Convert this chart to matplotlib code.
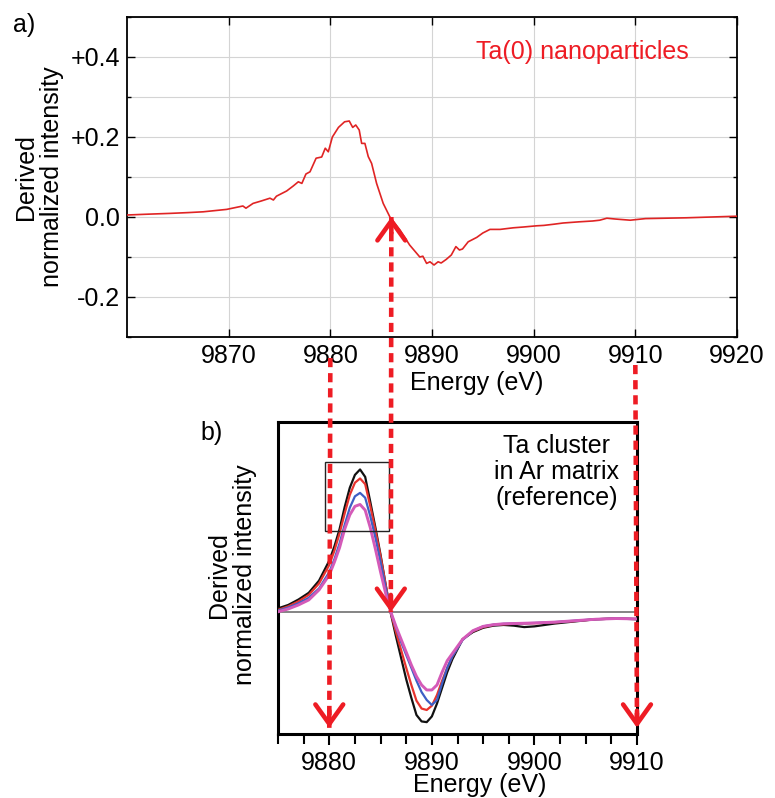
import matplotlib
matplotlib.use("Agg")
import matplotlib.pyplot as plt
from matplotlib.patches import ConnectionPatch, Rectangle
from matplotlib.ticker import MultipleLocator

plt.rcParams['font.family'] = ['Liberation Sans', 'DejaVu Sans']

# ---------------- data: panel a (Ta(0) nanoparticles) ----------------
energy_a = [9860, 9862, 9864.2, 9866, 9867.5, 9869.8, 9871.4, 9871.7, 9872.4, 9873.2,
            9874.06, 9874.4, 9874.7, 9875.7, 9876.35, 9876.85, 9877.2, 9877.6, 9878.0,
            9878.6, 9879.15, 9879.5, 9879.8, 9880.2, 9880.8, 9881.4, 9881.86, 9882.2,
            9882.5, 9882.84, 9883.08, 9883.4, 9883.73, 9884.06, 9884.55, 9885.2, 9885.86,
            9886.85, 9887.8, 9888.5, 9888.8, 9889.1, 9889.47, 9889.8, 9890.2, 9890.6,
            9890.9, 9891.4, 9891.9, 9892.35, 9892.7, 9893.0, 9893.56, 9894.4, 9895.0,
            9895.7, 9896.7, 9898.0, 9899.0, 9900.3, 9901.0, 9902.0, 9902.9, 9904.5,
            9905.8, 9906.5, 9907.2, 9908.0, 9909.5, 9911.0, 9915.0, 9920.0]
deriv_a = [0.005, 0.007, 0.009, 0.011, 0.013, 0.019, 0.0275, 0.022, 0.034, 0.040,
           0.047, 0.0425, 0.052, 0.065, 0.0775, 0.088, 0.084, 0.1075, 0.113,
           0.147, 0.150, 0.172, 0.163, 0.200, 0.224, 0.238, 0.240, 0.224,
           0.230, 0.2175, 0.184, 0.184, 0.151, 0.134, 0.084, 0.034, 0.0,
           -0.0325, -0.070, -0.091, -0.100, -0.098, -0.116, -0.112, -0.120, -0.112,
           -0.115, -0.106, -0.095, -0.074, -0.0825, -0.080, -0.062, -0.051, -0.040,
           -0.031, -0.031, -0.027, -0.025, -0.022, -0.021, -0.018, -0.015, -0.012,
           -0.010, -0.008, -0.003, -0.005, -0.008, -0.004, -0.002, 0.002]

# ---------------- data: panel b (Ta cluster in Ar matrix) ----------------
energy_b = [9875, 9876, 9877, 9878, 9879, 9880, 9880.5, 9881, 9881.5, 9882, 9882.5,
            9883, 9883.5, 9884, 9884.5, 9885, 9885.5, 9886, 9886.5, 9887, 9887.5,
            9888, 9888.5, 9889, 9889.5, 9890, 9890.5, 9891, 9891.5, 9892, 9893,
            9894, 9895, 9896, 9897, 9898, 9899, 9900, 9902, 9904, 9906, 9908, 9910]
black_b = [0.026, 0.050, 0.088, 0.135, 0.220, 0.360, 0.460, 0.580, 0.735, 0.870, 0.960,
           0.998, 0.946, 0.770, 0.590, 0.400, 0.190, -0.010, -0.170, -0.320, -0.470,
           -0.600, -0.720, -0.765, -0.770, -0.730, -0.640, -0.530, -0.420, -0.330, -0.190,
           -0.140, -0.110, -0.095, -0.090, -0.095, -0.105, -0.100, -0.080, -0.065, -0.050,
           -0.045, -0.050]
red_b = [0.015, 0.040, 0.075, 0.120, 0.200, 0.330, 0.430, 0.550, 0.690, 0.820, 0.905,
         0.935, 0.895, 0.740, 0.570, 0.390, 0.190, -0.005, -0.140, -0.265, -0.390,
         -0.510, -0.620, -0.675, -0.685, -0.655, -0.580, -0.480, -0.390, -0.310, -0.190,
         -0.135, -0.105, -0.090, -0.085, -0.082, -0.080, -0.078, -0.072, -0.062, -0.050,
         -0.045, -0.048]
blue_b = [0.010, 0.032, 0.062, 0.100, 0.165, 0.280, 0.370, 0.480, 0.610, 0.730, 0.810,
          0.834, 0.800, 0.670, 0.520, 0.350, 0.170, 0.000, -0.110, -0.210, -0.300,
          -0.390, -0.480, -0.560, -0.615, -0.650, -0.615, -0.500, -0.390, -0.310, -0.195,
          -0.132, -0.100, -0.088, -0.082, -0.080, -0.078, -0.076, -0.070, -0.060, -0.050,
          -0.045, -0.048]
magenta_b = [0.002, 0.022, 0.050, 0.085, 0.155, 0.260, 0.350, 0.450, 0.580, 0.680, 0.740,
             0.753, 0.713, 0.590, 0.440, 0.280, 0.130, 0.000, -0.100, -0.190, -0.280,
             -0.370, -0.450, -0.510, -0.545, -0.545, -0.510, -0.420, -0.340, -0.290, -0.190,
             -0.130, -0.100, -0.088, -0.082, -0.080, -0.078, -0.076, -0.070, -0.060, -0.050,
             -0.045, -0.048]

ticks_a_x = [9870, 9880, 9890, 9900, 9910, 9920]
ticks_a_y = [-0.2, 0.0, 0.2, 0.4]
ticklabels_a_y = ['-0.2', '0.0', '+0.2', '+0.4']
ticks_b_x = [9880, 9890, 9900, 9910]

# zoom box in panel b (energy range, intensity range)
box_x = (9879.6, 9885.8)
box_y = (0.566, 1.05)

# arrows: energies marked
arrow_energies_down = [9880, 9910]
arrow_energy_zero = 9886

RED = '#ee1c24'
FS = 18

fig = plt.figure(figsize=(7.75, 7.98), dpi=100)

# ---------------- panel a ----------------
ax1 = fig.add_axes([127/775, 1-337/798, 610/775, 320/798])
ax1.plot(energy_a, deriv_a, color='#e02424', lw=1.2, zorder=3)
ax1.set_xlim(9860, 9920)
ax1.set_ylim(-0.3, 0.5)
ax1.set_xticks(ticks_a_x)
ax1.set_yticks(ticks_a_y)
ax1.set_yticklabels(ticklabels_a_y)
ax1.yaxis.set_minor_locator(MultipleLocator(0.1))
ax1.grid(True, which='both', color='#d4d4d4', lw=0.8, zorder=0)
ax1.tick_params(which='both', direction='in', top=True, right=True, labelsize=FS, width=1.0)
ax1.tick_params(which='major', length=6, pad=5)
ax1.tick_params(which='minor', length=3)
ax1.tick_params(axis='x', which='minor', bottom=False, top=False)
for s in ax1.spines.values():
    s.set_linewidth(1.3)
ax1.text(0.574, -0.144, 'Energy (eV)', transform=ax1.transAxes, ha='center', va='center', fontsize=FS)
ax1.text(-0.144, 0.5, 'Derived\nnormalized intensity', transform=ax1.transAxes, rotation=90,
         ha='center', va='center', fontsize=FS, linespacing=1.1, multialignment='center')
ax1.text(0.747, 0.89, 'Ta(0) nanoparticles', transform=ax1.transAxes, ha='center', va='center',
         fontsize=FS, color=RED)

# ---------------- panel b ----------------
ax2 = fig.add_axes([278/775, 1-734/798, 359/775, 312/798])
ax2.axhline(0, color='#707070', lw=1.2, zorder=1)
ax2.plot(energy_b, black_b, color='#111111', lw=1.6, zorder=3)
ax2.plot(energy_b, red_b, color='#e8342e', lw=1.6, zorder=3)
ax2.plot(energy_b, blue_b, color='#3d5fc4', lw=1.6, zorder=3)
ax2.plot(energy_b, magenta_b, color='#d45ab8', lw=2.1, zorder=3)
ax2.add_patch(Rectangle((box_x[0], box_y[0]), box_x[1]-box_x[0], box_y[1]-box_y[0],
                        fill=False, ec='#222222', lw=1.0, zorder=4))
ax2.set_xlim(9875, 9910)
ax2.set_ylim(-0.853, 1.33)
ax2.set_xticks(ticks_b_x)
ax2.xaxis.set_minor_locator(MultipleLocator(2.5))
ax2.set_yticks([])
ax2.tick_params(axis='x', which='both', direction='out', labelsize=FS, width=1.5)
ax2.tick_params(axis='x', which='major', length=8, pad=4)
ax2.tick_params(axis='x', which='minor', length=7)
for s in ax2.spines.values():
    s.set_linewidth(2.2)
ax2.text(0.563, -0.163, 'Energy (eV)', transform=ax2.transAxes, ha='center', va='center', fontsize=FS)
ax2.text(-0.128, 0.51, 'Derived\nnormalized intensity', transform=ax2.transAxes, rotation=90,
         ha='center', va='center', fontsize=FS, linespacing=1.1, multialignment='center')
ax2.text(0.777, 0.84, 'Ta cluster\nin Ar matrix\n(reference)', transform=ax2.transAxes,
         ha='center', va='center', fontsize=FS, linespacing=1.1, multialignment='center')

fig.text(13/775, 1-25/798, 'a)', ha='left', va='center', fontsize=FS)
fig.text(200/775, 1-433/798, 'b)', ha='left', va='center', fontsize=FS)

# ---------------- red dashed arrows ----------------
DASH = (0, (2.0, 1.3))
LW = 3.3
HEAD = '->,head_length=0.7,head_width=0.5'


def dashed(xyA, axA, xyB, axB):
    fig.add_artist(ConnectionPatch(xyA=xyA, coordsA=axA.transData, xyB=xyB, coordsB=axB.transData,
                                   color=RED, lw=LW, linestyle=DASH, capstyle='butt', zorder=10))


def head(xy_from, xy_tip, ax):
    fig.add_artist(ConnectionPatch(xyA=xy_from, coordsA=ax.transData, xyB=xy_tip, coordsB=ax.transData,
                                   arrowstyle=HEAD, mutation_scale=20, color=RED, lw=LW, zorder=11,
                                   shrinkA=0, shrinkB=0))


y_start = {9880: -0.3525, 9910: -0.37}
y_tip_b = -0.81
for e in arrow_energies_down:
    dashed((e, y_start[e]), ax1, (e, y_tip_b), ax2)
    head((e, y_tip_b + 0.12), (e, y_tip_b), ax2)

dashed((arrow_energy_zero, 0.0), ax1, (arrow_energy_zero, 0.0), ax2)
head((arrow_energy_zero, -0.04), (arrow_energy_zero, 0.0), ax1)
head((arrow_energy_zero, 0.12), (arrow_energy_zero, 0.0), ax2)

fig.savefig('out.png', dpi=100)
